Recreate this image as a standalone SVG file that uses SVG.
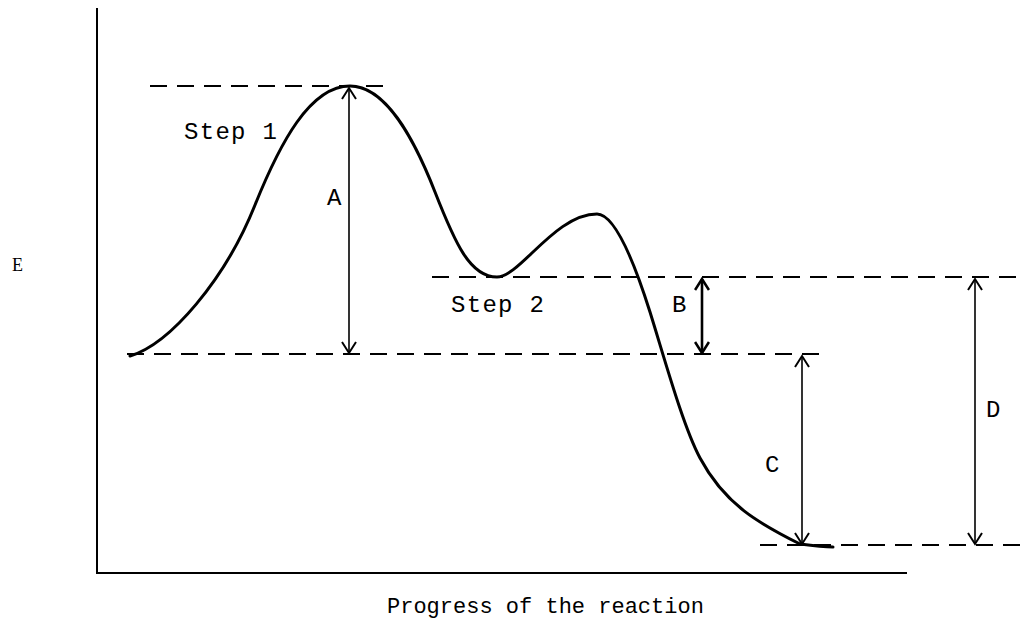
<svg xmlns="http://www.w3.org/2000/svg" width="1029" height="619" viewBox="0 0 1029 619">
<style>
.axis{stroke:#000;stroke-width:2;fill:none}
.dash{stroke:#000;stroke-width:2;stroke-dasharray:17 10;fill:none}
.curve{stroke:#000;stroke-width:3;fill:none;stroke-linecap:round;stroke-linejoin:round}
.arr{stroke:#000;stroke-width:1.6;fill:none;marker-start:url(#ah);marker-end:url(#ah)}
.arrb{stroke:#000;stroke-width:2.6;fill:none;marker-start:url(#ahb);marker-end:url(#ahb)}
.lbl{font-family:"Liberation Mono",monospace;font-size:24px;fill:#000}
.prog{font-family:"Liberation Mono",monospace;font-size:22px;fill:#000}
.step{font-family:"Liberation Mono",monospace;font-size:24px;letter-spacing:1.3px;fill:#000}
.e{font-family:"Liberation Serif",serif;font-size:18px;fill:#000}
</style>
<defs>
<marker id="ah" viewBox="-12 -8 14 16" markerWidth="14" markerHeight="16" refX="0" refY="0" orient="auto-start-reverse" markerUnits="userSpaceOnUse">
<path d="M-11,-7 L0,0 L-11,7" fill="none" stroke="#000" stroke-width="2"/>
</marker>
<marker id="ahb" viewBox="-12 -8 14 16" markerWidth="14" markerHeight="16" refX="0" refY="0" orient="auto-start-reverse" markerUnits="userSpaceOnUse">
<path d="M-11,-7 L0,0 L-11,7" fill="none" stroke="#000" stroke-width="2.6"/>
</marker>
</defs>
<g id="axes">
<path class="axis" d="M97,8 L97,573 L907,573"/>
<text class="e" x="12" y="271">E</text>
<text class="prog" x="387" y="613">Progress of the reaction</text>
</g>
<g id="levels">
<line class="dash" x1="150" y1="86" x2="390" y2="86"/>
<line class="dash" x1="127" y1="354" x2="828" y2="354"/>
<line class="dash" x1="432" y1="277" x2="1022" y2="277"/>
<line class="dash" x1="760" y1="545" x2="1029" y2="545"/>
</g>
<g id="curve">
<path class="curve" d="M130,356 C170,344 225,280 255,205 C280,143 310,86 350,86 C385,86 413,136 435,192 C455,243 470,277 497,277 C520,277 555,214 597,214 C617,214 638,274 650,312 C665,360 683,426 700,458 C725,505 760,524 800,544 C815,546 825,547 833,547"/>
</g>
<g id="connectors">
<line class="arr" x1="349" y1="88" x2="349" y2="353"/>
<line class="arrb" x1="702" y1="279" x2="702" y2="353"/>
<line class="arr" x1="802" y1="356" x2="802" y2="544"/>
<line class="arr" x1="975" y1="279" x2="975" y2="544"/>
</g>
<g id="labels">
<text class="step" x="184" y="139">Step 1</text>
<text class="step" x="451" y="312">Step 2</text>
<text class="lbl" x="327" y="205">A</text>
<text class="lbl" x="672" y="312">B</text>
<text class="lbl" x="765" y="472">C</text>
<text class="lbl" x="986" y="417">D</text>
</g>
</svg>
